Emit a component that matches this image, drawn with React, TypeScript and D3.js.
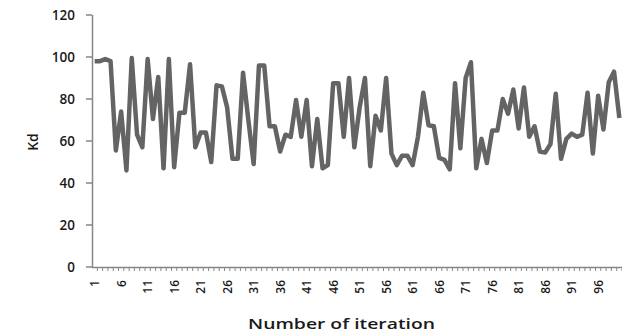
import React from "react";
import * as d3 from "d3";

const kdValues: number[] = [
  98, 98, 99, 98, 55.5, 74, 46, 99.5, 63, 57,
  99, 70.5, 90.5, 47, 99, 47.5, 73.5, 73.5, 96.5, 57,
  64, 64, 50, 86.5, 86, 76, 51.5, 51.5, 92.5, 70,
  49, 96, 96, 67, 67, 55, 63, 62, 79.5, 62,
  79.5, 48, 70.5, 47, 48.5, 87.5, 87.5, 62, 90, 57,
  76, 90, 48, 72, 65, 90, 54, 48.5, 53, 53,
  48.5, 62, 83, 67.5, 67, 52, 51, 46.5, 87.5, 56.5,
  90, 97.5, 47, 61, 49.5, 65, 65, 80, 73, 84.5,
  66, 85.5, 62, 67, 55, 54.5, 58.5, 82.5, 51.5, 61,
  63.5, 62, 63, 83, 54, 81.5, 65.5, 88, 93, 71,
];
const iterations: number[] = kdValues.map((_, i) => i + 1);
const xTickLabels: number[] = iterations.filter((d) => (d - 1) % 5 === 0);
const yTicks: number[] = [0, 20, 40, 60, 80, 100, 120];

const W = 622;
const H = 333;
const left = 92;
const right = 622;
const top = 15;
const bottom = 267;

export default function App() {
  const x = d3.scaleBand<number>().domain(iterations).range([left, right]);
  const y = d3.scaleLinear().domain([0, 120]).range([bottom, top]);
  const cx = (d: number) => (x(d) as number) + x.bandwidth() / 2;
  const line = d3
    .line<number>()
    .x((_, i) => cx(iterations[i]))
    .y((d) => y(d));
  const axisColor = "#868686";
  const font = "'Open Sans', 'DejaVu Sans', sans-serif";
  return (
    <svg
      width={W}
      height={H}
      style={{ position: "absolute", left: 0, top: 0, background: "#fff" }}
    >
      <line x1={left + 0.5} x2={left + 0.5} y1={top} y2={bottom} stroke={axisColor} strokeWidth={1.5} />
      {yTicks.map((t) => (
        <g key={t}>
          <line x1={left - 6} x2={left} y1={y(t)} y2={y(t)} stroke={axisColor} strokeWidth={1.5} />
          <text
            x={75}
            y={y(t)}
            dy="0.35em"
            textAnchor="end"
            fontFamily={font}
            fontSize={13.5}
            fontWeight={600}
            fill="#1a1a1a"
          >
            {t}
          </text>
        </g>
      ))}
      <line x1={left} x2={right} y1={bottom + 0.5} y2={bottom + 0.5} stroke={axisColor} strokeWidth={1.5} />
      {iterations.map((d) => (
        <line
          key={"t" + d}
          x1={(x(d) as number) + x.bandwidth()}
          x2={(x(d) as number) + x.bandwidth()}
          y1={bottom}
          y2={bottom + 4}
          stroke={axisColor}
          strokeWidth={1}
        />
      ))}
      {xTickLabels.map((d) => (
        <text
          key={"l" + d}
          transform={`translate(${cx(d) + 4.5},${280}) rotate(-90)`}
          textAnchor="end"
          fontFamily={font}
          fontSize={12}
          fontWeight={600}
          fill="#1a1a1a"
        >
          {d}
        </text>
      ))}
      <path d={line(kdValues) || ""} fill="none" stroke="#646464" strokeWidth={4.5} strokeLinejoin="round" />
      <text
        transform={`translate(38,142) rotate(-90)`}
        textAnchor="middle"
        fontFamily={font}
        fontSize={14}
        fontWeight={600}
        fill="#1a1a1a"
      >
        Kd
      </text>
      <text
        x={248}
        y={329}
        textLength={187}
        lengthAdjust="spacingAndGlyphs"
        fontFamily={font}
        fontSize={14}
        fontWeight={600}
        fill="#1a1a1a"
      >
        Number of iteration
      </text>
    </svg>
  );
}
